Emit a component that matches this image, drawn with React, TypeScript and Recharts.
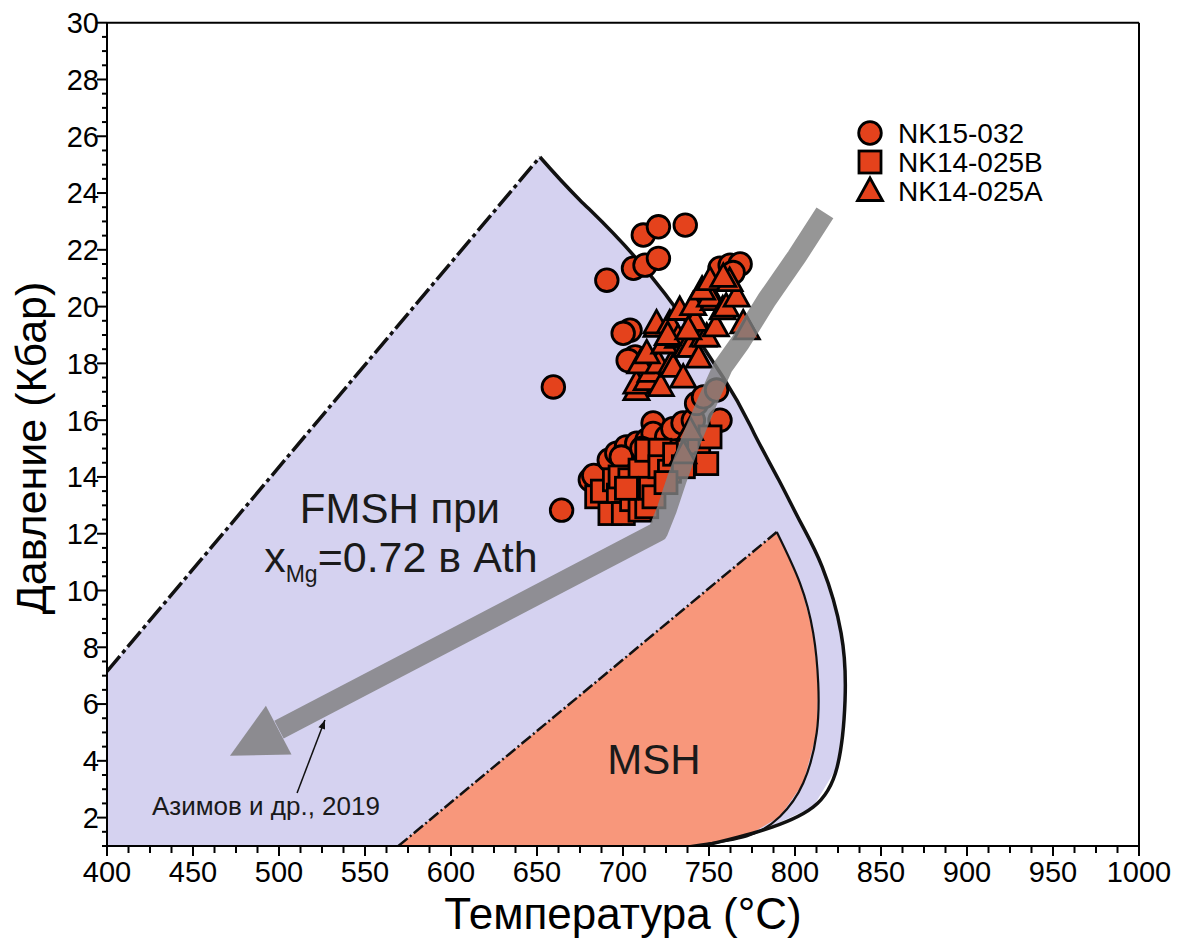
import { ComposedChart, XAxis, YAxis, Area, Line, Scatter, ReferenceLine, Legend } from "recharts";

const FONT = '"Liberation Sans", Arial, Helvetica, sans-serif';
const FMSH_FILL = "#d5d2f0";
const MSH_FILL = "#f8977b";
const MARKER_FILL = "#e4421c";
const ARROW_GREY = "#7f7f7f";

// axis ticks
const xMajorTicks = [400, 450, 500, 550, 600, 650, 700, 750, 800, 850, 900, 950, 1000];
const yMajorTicks = [2, 4, 6, 8, 10, 12, 14, 16, 18, 20, 22, 24, 26, 28, 30];
const xTicks = Array.from({ length: 49 }, (_, i) => 400 + i * 12.5);
const yTicks = Array.from({ length: 59 }, (_, i) => 1 + i * 0.5);

// FMSH field (lavender)
const fmshDashedEdge = [
  { x: 400, y: 7.15 },
  { x: 651.7, y: 25.27 },
];
const fmshCurve = [
  { x: 651.7, y: 25.27 },
  { x: 675, y: 23.75 },
  { x: 713.4, y: 21.29 },
  { x: 758.1, y: 17.52 },
  { x: 776.1, y: 15.55 },
  { x: 790.6, y: 13.89 },
  { x: 803.4, y: 12.38 },
  { x: 815.8, y: 10.83 },
  { x: 826.8, y: 8.5 },
  { x: 829.1, y: 6.14 },
  { x: 824.5, y: 3.78 },
  { x: 810.5, y: 2.37 },
  { x: 781.4, y: 1.56 },
  { x: 746, y: 1 },
];
const fmshFill = [{ x: 400, y: 1 }, ...fmshDashedEdge, ...fmshCurve.slice(1)];

// MSH field (salmon)
const mshDashedEdge = [
  { x: 569.4, y: 1 },
  { x: 789.4, y: 12.06 },
];
const mshCurve = [
  { x: 789.4, y: 12.06 },
  { x: 802.9, y: 10.26 },
  { x: 810.6, y: 8.5 },
  { x: 813.5, y: 6.74 },
  { x: 812.6, y: 4.98 },
  { x: 804.8, y: 3.22 },
  { x: 791.3, y: 2.04 },
  { x: 771.9, y: 1.34 },
  { x: 739, y: 1 },
];
const mshFill = [...mshDashedEdge, ...mshCurve.slice(1)];

// P-T path (grey arrow)
const ptPath = [
  { x: 817.4, y: 23.3 },
  { x: 801, y: 21.76 },
  { x: 783.6, y: 20.24 },
  { x: 768, y: 18.72 },
  { x: 758.1, y: 17.88 },
  { x: 748.7, y: 16.61 },
  { x: 739, y: 15.2 },
  { x: 731.2, y: 13.9 },
  { x: 725.4, y: 12.84 },
  { x: 720.3, y: 12.07 },
  { x: 500, y: 5.1 },
];
const ptArrowTip = [{ x: 471.5, y: 4.18 }];

// reference pointer
const refPointer = [
  { x: 510.5, y: 2.87 },
  { x: 526.7, y: 5.44 },
];
const refPointerTip = [{ x: 526.7, y: 5.44 }];

// samples
const nk15032 = [
  { x: 711.8, y: 22.52 }, { x: 720.6, y: 22.81 }, { x: 736.2, y: 22.87 },
  { x: 690.6, y: 20.93 }, { x: 706.1, y: 21.35 }, { x: 712.8, y: 21.46 }, { x: 720.6, y: 21.7 },
  { x: 704.1, y: 19.17 }, { x: 700.1, y: 19.06 }, { x: 707.1, y: 18.23 }, { x: 703, y: 18.1 },
  { x: 756.4, y: 21.35 }, { x: 762.3, y: 21.46 }, { x: 768.1, y: 21.5 }, { x: 764, y: 21.2 },
  { x: 659.5, y: 17.17 }, { x: 664.3, y: 12.83 },
  { x: 681, y: 13.9 }, { x: 683, y: 14.05 }, { x: 692, y: 14.6 }, { x: 696.4, y: 14.84 },
  { x: 702, y: 15.06 }, { x: 708, y: 15.19 }, { x: 714, y: 15.3 }, { x: 717.5, y: 15.9 },
  { x: 717.5, y: 15.53 }, { x: 725.4, y: 15.41 }, { x: 729, y: 15.7 }, { x: 734.9, y: 15.9 },
  { x: 740.9, y: 16.0 }, { x: 742.8, y: 16.59 }, { x: 746.8, y: 16.82 }, { x: 754.4, y: 17.06 },
  { x: 756.4, y: 16.0 }, { x: 699, y: 14.7 }, { x: 711, y: 15.0 },
];
const nk14025B = [
  { x: 684.7, y: 13.3 }, { x: 688, y: 13.5 }, { x: 695, y: 13.9 }, { x: 697.3, y: 13.36 },
  { x: 698.3, y: 14.0 }, { x: 692.4, y: 12.71 }, { x: 700.2, y: 12.71 }, { x: 705, y: 13.2 },
  { x: 709.9, y: 12.83 }, { x: 713.8, y: 12.95 }, { x: 704, y: 13.9 }, { x: 709.9, y: 14.24 },
  { x: 716, y: 13.6 }, { x: 713.8, y: 14.94 }, { x: 721.5, y: 14.94 }, { x: 721.5, y: 14.36 },
  { x: 727, y: 14.2 }, { x: 730, y: 14.8 }, { x: 735.1, y: 14.36 }, { x: 738, y: 14.9 },
  { x: 744, y: 15.2 }, { x: 748.7, y: 14.47 }, { x: 750.6, y: 15.41 }, { x: 702, y: 13.6 },
  { x: 718, y: 13.3 }, { x: 725, y: 13.8 },
];
const nk14025A = [
  { x: 707.8, y: 17.06 }, { x: 707.8, y: 17.29 }, { x: 713.8, y: 17.41 }, { x: 716, y: 17.7 },
  { x: 710, y: 18.0 }, { x: 722, y: 17.2 }, { x: 720.6, y: 18.0 }, { x: 728.2, y: 18.0 },
  { x: 713.8, y: 18.35 }, { x: 729.2, y: 17.88 }, { x: 735, y: 17.5 }, { x: 724, y: 18.7 },
  { x: 719.5, y: 19.29 }, { x: 719.5, y: 19.41 }, { x: 727.2, y: 19.41 }, { x: 732, y: 18.9 },
  { x: 736.9, y: 18.58 }, { x: 738.9, y: 18.58 }, { x: 744, y: 18.2 }, { x: 746.6, y: 18.94 },
  { x: 748.7, y: 18.94 }, { x: 733, y: 19.88 }, { x: 742, y: 19.5 }, { x: 740.8, y: 20.05 },
  { x: 754, y: 19.3 }, { x: 752.7, y: 20.23 }, { x: 750.6, y: 20.35 }, { x: 746, y: 20.6 },
  { x: 750.6, y: 20.93 }, { x: 758, y: 19.9 }, { x: 760, y: 20.0 }, { x: 766.1, y: 20.35 },
  { x: 762, y: 20.9 }, { x: 758.3, y: 21.05 }, { x: 769.9, y: 19.41 }, { x: 772, y: 19.2 },
  { x: 735.1, y: 14.83 }, { x: 739, y: 15.65 }, { x: 726, y: 19.0 }, { x: 738, y: 19.2 },
];

// text labels placed in data space
const fieldLabels = [
  { x: 570.3, y: 12.38, id: "fmsh1", text: "FMSH при" },
  { x: 570.9, y: 10.66, id: "fmsh2", text: "=0.72 в Ath" },
  { x: 718, y: 3.55, id: "msh", text: "MSH" },
  { x: 492.4, y: 2.1, id: "ref", text: "Азимов и др., 2019" },
];

const legendItems = [
  { name: "NK15-032", shape: "circle" },
  { name: "NK14-025B", shape: "square" },
  { name: "NK14-025A", shape: "triangle" },
];

const marker = (shape: string, cx: number, cy: number) => {
  const common = { fill: MARKER_FILL, stroke: "#000", strokeWidth: 2.8 };
  if (shape === "circle") return <circle cx={cx} cy={cy} r={11.3} {...common} />;
  if (shape === "square") return <rect x={cx - 11} y={cy - 11} width={22} height={22} {...common} />;
  return (
    <polygon
      points={`${cx},${cy - 13} ${cx + 12.5},${cy + 9.5} ${cx - 12.5},${cy + 9.5}`}
      {...common}
    />
  );
};

const XTick = ({ x, y, payload }: any) => {
  const major = xMajorTicks.includes(payload.value);
  return (
    <g>
      <line x1={x} x2={x} y1={y} y2={y + (major ? 10 : 7)} stroke="#000" strokeWidth={2} />
      {major && (
        <text x={x} y={y + 36} textAnchor="middle" fontSize={29} fontFamily={FONT} fill="#000">
          {payload.value}
        </text>
      )}
    </g>
  );
};

const YTick = ({ x, y, payload }: any) => {
  const major = yMajorTicks.includes(payload.value);
  return (
    <g>
      <line x1={x - (major ? 10 : 5)} x2={x} y1={y} y2={y} stroke="#000" strokeWidth={2} />
      {major && (
        <text x={x - 8} y={y} dy="0.36em" textAnchor="end" fontSize={29} fontFamily={FONT} fill="#000">
          {payload.value}
        </text>
      )}
    </g>
  );
};

const LabelShape = (props: any) => {
  const { cx, cy, payload } = props;
  if (payload.id === "fmsh2") {
    return (
      <text x={cx} y={cy} textAnchor="middle" fontFamily={FONT} fill="#1a1a1a" fontSize={43}>
        <tspan>x</tspan>
        <tspan fontSize={23} dy={10}>Mg</tspan>
        <tspan dy={-10}>{payload.text}</tspan>
      </text>
    );
  }
  const size = payload.id === "ref" ? 26 : 42;
  return (
    <text x={cx} y={cy} textAnchor="middle" fontFamily={FONT} fill="#1a1a1a" fontSize={size}>
      {payload.text}
    </text>
  );
};

const ArrowHead = ({ cx, cy }: any) => (
  <polygon
    points={`${cx},${cy} ${cx + 35.9},${cy - 49.9} ${cx + 61.5},${cy - 1.3}`}
    fill={ARROW_GREY}
    fillOpacity={0.85}
  />
);

const PointerHead = ({ cx, cy }: any) => (
  <polygon points={`${cx},${cy} ${cx + 0.1},${cy + 9.6} ${cx - 6.5},${cy + 7.2}`} fill="#111" />
);

const LegendBox = () => (
  <svg width={270} height={104}>
    {legendItems.map((item, i) => {
      const cy = 20 + i * 29;
      return (
        <g key={item.name}>
          {marker(item.shape, 17, cy)}
          <text x={45} y={cy + 10} fontSize={28} fontFamily={FONT} fill="#000">
            {item.name}
          </text>
        </g>
      );
    })}
  </svg>
);

export default function App() {
  return (
    <ComposedChart width={1171} height={931} margin={{ top: 14.7, right: 40, bottom: 0, left: 0 }}>
      <XAxis
        type="number"
        dataKey="x"
        domain={[400, 1000]}
        allowDataOverflow
        ticks={xTicks}
        interval={0}
        tickSize={0}
        tickMargin={0}
        tick={<XTick />}
        height={93}
        axisLine={{ stroke: "#000", strokeWidth: 2 }}
        label={{
          content: ({ viewBox }: any) => (
            <text
              x={viewBox.x + viewBox.width / 2}
              y={921}
              textAnchor="middle"
              fontSize={44}
              fontFamily={FONT}
              fill="#000"
            >
              Температура (°C)
            </text>
          ),
        }}
      />
      <YAxis
        type="number"
        dataKey="y"
        domain={[1, 30]}
        allowDataOverflow
        ticks={yTicks}
        interval={0}
        tickSize={0}
        tickMargin={0}
        tick={<YTick />}
        width={99}
        axisLine={{ stroke: "#000", strokeWidth: 2 }}
        label={{
          content: () => (
            <text
              transform="translate(38, 440) rotate(-90)"
              textAnchor="middle"
              fontSize={43}
              fontFamily={FONT}
              fill="#000"
            >
              Давление (Кбар)
            </text>
          ),
        }}
      />
      <ReferenceLine y={30} stroke="#000" strokeWidth={2} />
      <ReferenceLine x={1000} stroke="#000" strokeWidth={2} />

      <Area data={fmshFill} dataKey="y" type="linear" baseValue={1} fill={FMSH_FILL} fillOpacity={1} stroke="none" isAnimationActive={false} dot={false} activeDot={false} />
      <Area data={mshFill} dataKey="y" type="linear" baseValue={1} fill={MSH_FILL} fillOpacity={1} stroke="none" isAnimationActive={false} dot={false} activeDot={false} />

      <Line data={fmshDashedEdge} dataKey="y" type="linear" stroke="#111" strokeWidth={3.5} strokeDasharray="20 4 4 4" dot={false} activeDot={false} isAnimationActive={false} />
      <Line data={fmshCurve} dataKey="y" type="natural" stroke="#111" strokeWidth={3.5} dot={false} activeDot={false} isAnimationActive={false} />
      <Line data={mshDashedEdge} dataKey="y" type="linear" stroke="#111" strokeWidth={2.5} strokeDasharray="12 3 2 3" dot={false} activeDot={false} isAnimationActive={false} />
      <Line data={mshCurve} dataKey="y" type="natural" stroke="#111" strokeWidth={2.2} dot={false} activeDot={false} isAnimationActive={false} />
      <Line data={refPointer} dataKey="y" type="linear" stroke="#111" strokeWidth={1.5} dot={false} activeDot={false} isAnimationActive={false} />
      <Scatter data={refPointerTip} dataKey="y" shape={<PointerHead />} isAnimationActive={false} />

      <Scatter name="NK15-032" data={nk15032} dataKey="y" shape={(p: any) => marker("circle", p.cx, p.cy)} isAnimationActive={false} />
      <Scatter name="NK14-025B" data={nk14025B} dataKey="y" shape={(p: any) => marker("square", p.cx, p.cy)} isAnimationActive={false} />
      <Scatter name="NK14-025A" data={nk14025A} dataKey="y" shape={(p: any) => marker("triangle", p.cx, p.cy)} isAnimationActive={false} />

      <Line data={ptPath} dataKey="y" type="linear" stroke={ARROW_GREY} strokeOpacity={0.82} strokeWidth={20} strokeLinejoin="round" dot={false} activeDot={false} isAnimationActive={false} zIndex={650} />
      <Scatter data={ptArrowTip} dataKey="y" shape={<ArrowHead />} isAnimationActive={false} zIndex={650} />
      <Scatter data={fieldLabels} dataKey="y" shape={<LabelShape />} isAnimationActive={false} zIndex={700} />

      <Legend
        layout="vertical"
        align="center"
        verticalAlign="middle"
        content={() => <LegendBox />}
        wrapperStyle={{ left: 845, top: 105, width: 270, height: 104 }}
      />
    </ComposedChart>
  );
}
